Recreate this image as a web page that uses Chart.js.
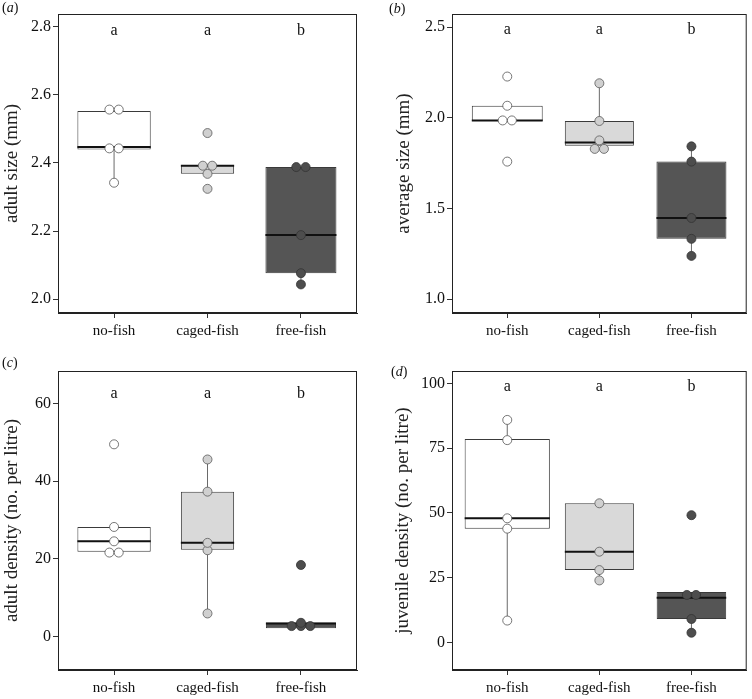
<!DOCTYPE html>
<html>
<head>
<meta charset="utf-8">
<script src="https://cdn.jsdelivr.net/npm/chart.js@4.4.1/dist/chart.umd.min.js"></script>
<style>
  body { margin: 0; background: #fff; }
  #wrap { position: relative; width: 752px; height: 699px; font-family: 'Liberation Serif', 'Times New Roman', serif; }
  .panel { position: absolute; }
  .tag { position: absolute; font-size: 14px; color: #111; }
</style>
</head>
<body>
<div id="wrap">
  <div class="panel" style="left:0;top:0;width:376px;height:349px"><canvas id="chartA"></canvas></div>
  <div class="panel" style="left:376px;top:0;width:376px;height:349px"><canvas id="chartB"></canvas></div>
  <div class="panel" style="left:0;top:349px;width:376px;height:350px"><canvas id="chartC"></canvas></div>
  <div class="panel" style="left:376px;top:349px;width:376px;height:350px"><canvas id="chartD"></canvas></div>
  <div class="tag" style="left:2px;top:0px">(<i>a</i>)</div>
  <div class="tag" style="left:389px;top:1px">(<i>b</i>)</div>
  <div class="tag" style="left:2px;top:355px">(<i>c</i>)</div>
  <div class="tag" style="left:391px;top:364px">(<i>d</i>)</div>
</div>
<script>
// treatments and significance groups
const groups = ['no-fish', 'caged-fish', 'free-fish'];
const sigLetters = ['a', 'a', 'b'];

// (a) adult size (mm)
const adultSizePts = [[2.557, 2.557, 2.443, 2.443, 2.342], [2.488, 2.392, 2.392, 2.368, 2.324], [2.388, 2.388, 2.188, 2.076, 2.043]];
const adultSizeQ1 = [2.440, 2.368, 2.076];
const adultSizeMed = [2.447, 2.392, 2.188];
const adultSizeQ3 = [2.553, 2.394, 2.388];
const adultSizeLo = [2.342, 2.368, 2.043];
const adultSizeHi = [2.553, 2.394, 2.388];
const adultSizeTicks = [2.0, 2.2, 2.4, 2.6, 2.8];

// (b) average size (mm)
const avgSizePts = [[2.227, 2.066, 1.985, 1.985, 1.758], [2.19, 1.982, 1.875, 1.828, 1.828], [1.842, 1.758, 1.447, 1.332, 1.238]];
const avgSizeQ1 = [1.982, 1.846, 1.332];
const avgSizeMed = [1.985, 1.864, 1.447];
const avgSizeQ3 = [2.066, 1.982, 1.758];
const avgSizeLo = [1.982, 1.846, 1.238];
const avgSizeHi = [2.066, 2.19, 1.842];
const avgSizeTicks = [1.0, 1.5, 2.0, 2.5];

// (c) adult density (no. per litre)
const adultDensPts = [[49.5, 28.2, 24.5, 21.6, 21.6], [45.6, 37.3, 24.1, 22.2, 5.9], [18.4, 3.5, 2.65, 2.65, 2.65]];
const adultDensQ1 = [21.8, 22.3, 2.1];
const adultDensMed = [24.5, 24.1, 3.3];
const adultDensQ3 = [28.2, 37.3, 3.6];
const adultDensLo = [21.6, 5.9, 2.1];
const adultDensHi = [28.2, 45.6, 3.6];
const adultDensTicks = [0, 20, 40, 60];

// (d) juvenile density (no. per litre)
const juvDensPts = [[85.9, 78.1, 47.9, 43.9, 8.4], [53.7, 35.0, 27.9, 23.9], [49.1, 18.3, 18.3, 9.0, 3.7]];
const juvDensQ1 = [43.9, 27.9, 9.0];
const juvDensMed = [47.9, 35.0, 17.2];
const juvDensQ3 = [78.5, 53.7, 19.4];
const juvDensLo = [8.4, 23.9, 3.7];
const juvDensHi = [85.9, 53.7, 19.4];
const juvDensTicks = [0, 25, 50, 75, 100];

const boxFill = ['#ffffff', '#d9d9d9', '#555555'];
const dotFill = ['#ffffff', '#d0d0d0', '#4d4d4d'];
const dotEdge = ['#555555', '#5a5a5a', '#333333'];
const serif = "'Liberation Serif', 'Times New Roman', serif";

// spread points with (nearly) equal values side by side, like a centred dot plot
function dodge(vals, tol) {
    const off = new Array(vals.length).fill(0);
    const used = new Array(vals.length).fill(false);
    for (let i = 0; i < vals.length; i++) {
        if (used[i]) continue;
        const grp = [];
        for (let j = i; j < vals.length; j++) {
            if (!used[j] && Math.abs(vals[j] - vals[i]) <= tol) { grp.push(j); used[j] = true; }
        }
        grp.forEach((j, k) => { off[j] = (k - (grp.length - 1) / 2) * 0.1; });
    }
    return off;
}

const framePlugin = {
    id: 'frame',
    afterDraw(chart) {
        const a = chart.chartArea, ctx = chart.ctx;
        ctx.save();
        ctx.strokeStyle = '#222';
        ctx.lineWidth = 1;
        ctx.strokeRect(a.left + 0.5, a.top + 0.5, a.right - a.left - 1, a.bottom - a.top - 1);
        ctx.restore();
    }
};

const letterPlugin = {
    id: 'letters',
    afterDatasetsDraw(chart, args, opts) {
        const ctx = chart.ctx;
        ctx.save();
        ctx.font = '16px ' + serif;
        ctx.fillStyle = '#111';
        ctx.textAlign = 'center';
        ctx.textBaseline = 'middle';
        sigLetters.forEach((l, i) => {
            ctx.fillText(l, chart.scales.x.getPixelForValue(i), chart.scales.y.getPixelForValue(opts.y));
        });
        ctx.restore();
    }
};

function makePanel(id, p) {
    const datasets = [];
    const span = p.max - p.min;
    groups.forEach((g, i) => {
        const pts = p.pts[i].slice().sort((a, b) => a - b);
        const off = dodge(pts, span / 100);
        datasets.push({
            type: 'scatter',
            data: pts.map((v, k) => ({ x: i + off[k], y: v })),
            backgroundColor: dotFill[i],
            borderColor: dotEdge[i],
            borderWidth: 0.8,
            pointRadius: 4.5,
            order: 0
        });
        datasets.push({
            type: 'bar',
            data: [{ x: i, y: [p.q1[i], p.q3[i]] }],
            backgroundColor: boxFill[i],
            borderColor: '#3a3a3a',
            borderWidth: 1,
            borderSkipped: false,
            grouped: false,
            categoryPercentage: 1,
            barPercentage: p.widths[i],
            order: 2
        });
    });
    const med = [], whisk = [];
    groups.forEach((g, i) => {
        const hw = p.widths[i] / 2;
        med.push({ x: i - hw, y: p.med[i] }, { x: i + hw, y: p.med[i] }, { x: i, y: null });
        whisk.push({ x: i, y: p.lo[i] }, { x: i, y: p.q1[i] }, { x: i, y: null },
                   { x: i, y: p.q3[i] }, { x: i, y: p.hi[i] }, { x: i, y: null });
    });
    datasets.push({ type: 'line', data: med, borderColor: '#111', borderWidth: 2, pointRadius: 0, spanGaps: false, order: 1 });
    datasets.push({ type: 'line', data: whisk, borderColor: '#6a6a6a', borderWidth: 1, pointRadius: 0, spanGaps: false, order: 3 });

    return new Chart(document.getElementById(id), {
        type: 'scatter',
        data: { datasets: datasets },
        plugins: [framePlugin, letterPlugin],
        options: {
            responsive: true,
            maintainAspectRatio: false,
            animation: false,
            layout: { padding: { top: p.padTop, right: p.padRight, left: 0, bottom: 0 } },
            plugins: {
                legend: { display: false },
                tooltip: { enabled: false },
                letters: { y: p.letterY }
            },
            scales: {
                x: {
                    type: 'linear',
                    min: -0.6,
                    max: 2.6,
                    offset: false,
                    afterBuildTicks: s => { s.ticks = groups.map((g, i) => ({ value: i })); },
                    afterFit: s => { s.height = p.xHeight; },
                    ticks: {
                        callback: v => groups[v],
                        font: { family: serif, size: 15 },
                        color: '#111',
                        padding: 4,
                        maxRotation: 0
                    },
                    grid: { drawOnChartArea: false, offset: false, tickLength: 5, color: '#333' },
                    border: { color: '#222' }
                },
                y: {
                    min: p.min,
                    max: p.max,
                    afterBuildTicks: s => { s.ticks = p.ticks.map(v => ({ value: v })); },
                    afterFit: s => { s.width = p.yWidth; },
                    ticks: {
                        callback: v => v.toFixed(p.dec),
                        font: { family: serif, size: 16 },
                        color: '#111',
                        padding: 2
                    },
                    grid: { drawOnChartArea: false, offset: false, tickLength: 5, color: '#333' },
                    border: { color: '#222' },
                    title: {
                        display: true,
                        text: p.title,
                        font: { family: serif, size: 19 },
                        color: '#222',
                        padding: { top: p.titlePad, bottom: 0 }
                    }
                }
            }
        }
    });
}

makePanel('chartA', {
    pts: adultSizePts, q1: adultSizeQ1, med: adultSizeMed, q3: adultSizeQ3, lo: adultSizeLo, hi: adultSizeHi,
    ticks: adultSizeTicks, dec: 1, min: 1.959, max: 2.838, letterY: 2.79,
    widths: [0.785, 0.57, 0.76], title: 'adult size (mm)',
    padTop: 14, padRight: 19, yWidth: 58, xHeight: 36, titlePad: 1
});
makePanel('chartB', {
    pts: avgSizePts, q1: avgSizeQ1, med: avgSizeMed, q3: avgSizeQ3, lo: avgSizeLo, hi: avgSizeHi,
    ticks: avgSizeTicks, dec: 1, min: 0.923, max: 2.572, letterY: 2.485,
    widths: [0.77, 0.75, 0.76], title: 'average size (mm)',
    padTop: 14, padRight: 1, yWidth: 76, xHeight: 36, titlePad: 17
});
makePanel('chartC', {
    pts: adultDensPts, q1: adultDensQ1, med: adultDensMed, q3: adultDensQ3, lo: adultDensLo, hi: adultDensHi,
    ticks: adultDensTicks, dec: 0, min: -8.67, max: 68.4, letterY: 62.6,
    widths: [0.785, 0.57, 0.75], title: 'adult density (no. per litre)',
    padTop: 22, padRight: 19, yWidth: 58, xHeight: 29, titlePad: 1
});
makePanel('chartD', {
    pts: juvDensPts, q1: juvDensQ1, med: juvDensMed, q3: juvDensQ3, lo: juvDensLo, hi: juvDensHi,
    ticks: juvDensTicks, dec: 0, min: -10.7, max: 104.8, letterY: 98.7,
    widths: [0.925, 0.75, 0.755], title: 'juvenile density (no. per litre)',
    padTop: 22, padRight: 1, yWidth: 76, xHeight: 29, titlePad: 16
});
</script>
</body>
</html>
